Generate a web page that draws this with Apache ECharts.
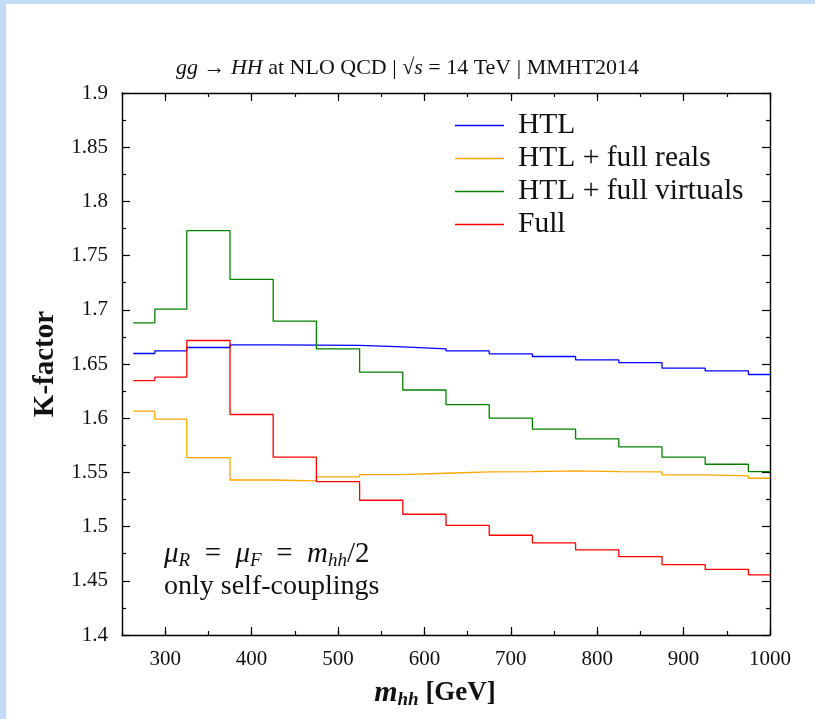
<!DOCTYPE html>
<html>
<head>
<meta charset="utf-8">
<script src="https://cdn.jsdelivr.net/npm/echarts@6/dist/echarts.min.js"></script>
<style>
html,body{margin:0;padding:0;background:#fff;}
#chart{width:815px;height:719px;}
</style>
</head>
<body>
<div id="chart"></div>
<script>
// bin edges in m_hh [GeV]
var binEdges = [263, 288, 325, 375, 425, 475, 525, 575, 625, 675, 725, 775, 825, 875, 925, 975, 1000];
var seriesNames = ['HTL', 'HTL + full reals', 'HTL + full virtuals', 'Full'];
var htl = [1.6597, 1.6621, 1.6652, 1.6677, 1.6674, 1.6672, 1.6658, 1.6640, 1.6621, 1.6594, 1.6569, 1.6538, 1.6513, 1.6462, 1.6437, 1.6403];
var htlReals = [1.6065, 1.5991, 1.5637, 1.5430, 1.5421, 1.5458, 1.5480, 1.5492, 1.5505, 1.5508, 1.5514, 1.5508, 1.5505, 1.5477, 1.5468, 1.5446];
var htlVirtuals = [1.688, 1.7006, 1.773, 1.728, 1.6895, 1.664, 1.6425, 1.626, 1.6126, 1.600, 1.590, 1.581, 1.5735, 1.564, 1.5575, 1.5507];
var full = [1.6347, 1.6378, 1.6717, 1.6034, 1.564, 1.5415, 1.5243, 1.5114, 1.5012, 1.492, 1.4849, 1.4785, 1.4723, 1.4649, 1.4606, 1.4554];
var xMajorTicks = [300, 400, 500, 600, 700, 800, 900, 1000];

var colors = ['#0000ff', '#ffa500', '#008000', '#ff0000'];
var FONT = '"Liberation Serif", "DejaVu Serif", serif';

function stepData(vals) {
  var d = vals.map(function (v, i) { return [binEdges[i], v]; });
  d.push([binEdges[binEdges.length - 1], vals[vals.length - 1]]);
  return d;
}

var chart = echarts.init(document.getElementById('chart'), null, {renderer: 'canvas'});

var axisLineStyle = {color: '#000', width: 1.4};
function xAxisBase(extra) {
  var a = {
    type: 'value', min: 250, max: 1000, gridIndex: 0,
    splitLine: {show: false},
    axisLine: {show: true, onZero: false, lineStyle: axisLineStyle}
  };
  for (var k in extra) a[k] = extra[k];
  return a;
}

var option = {
  backgroundColor: '#ffffff',
  animation: false,
  title: {
    left: 'center', top: 52,
    text: '{i|gg} → {i|HH} at NLO QCD | √{i|s} = 14 TeV | MMHT2014',
    textStyle: {
      fontFamily: FONT, fontSize: 22, fontWeight: 'normal', color: '#111',
      rich: {i: {fontFamily: FONT, fontSize: 22, fontStyle: 'italic', color: '#111'}}
    }
  },
  grid: {left: 122, right: 45, top: 93, bottom: 84, containLabel: false},
  legend: {
    left: 455, top: 109, orient: 'vertical', itemGap: 0, padding: 0,
    itemWidth: 49, itemHeight: 1.4, icon: 'rect',
    data: seriesNames,
    textStyle: {fontFamily: FONT, fontSize: 29.5, color: '#111', lineHeight: 33, padding: [0, 0, 0, 9]}
  },
  xAxis: [
    xAxisBase({
      position: 'bottom', interval: 50,
      axisTick: {show: true, inside: true, length: 4, lineStyle: {color: '#000', width: 1.2}},
      axisLabel: {
        show: true, fontFamily: FONT, fontSize: 21, color: '#111', margin: 14,
        formatter: function (v) { return v % 100 === 0 ? String(v) : ''; }
      },
      name: '{m|m}{s|hh} {b|[GeV]}', nameLocation: 'middle', nameGap: 42,
      nameTextStyle: {
        fontFamily: FONT, fontSize: 27, color: '#111', padding: [0, 22, 0, 0],
        rich: {
          m: {fontFamily: FONT, fontSize: 30, fontStyle: 'italic', fontWeight: 'bold', color: '#111'},
          s: {fontFamily: FONT, fontSize: 19, fontStyle: 'italic', fontWeight: 'bold', color: '#111', padding: [14, 0, 0, 0]},
          b: {fontFamily: FONT, fontSize: 27, fontWeight: 'bold', color: '#111'}
        }
      }
    }),
    xAxisBase({
      position: 'bottom', axisLine: {show: false},
      axisTick: {show: true, inside: true, length: 8, customValues: xMajorTicks, lineStyle: {color: '#000', width: 1.2}},
      axisLabel: {show: false}
    }),
    xAxisBase({
      position: 'top', interval: 50,
      axisTick: {show: true, inside: true, length: 4, lineStyle: {color: '#000', width: 1.2}},
      axisLabel: {show: false}
    }),
    xAxisBase({
      position: 'top', axisLine: {show: false},
      axisTick: {show: true, inside: true, length: 8, customValues: xMajorTicks, lineStyle: {color: '#000', width: 1.2}},
      axisLabel: {show: false}
    })
  ],
  yAxis: [
    {
      type: 'value', min: 1.4, max: 1.9, interval: 0.05, position: 'left',
      splitLine: {show: false},
      axisLine: {show: true, onZero: false, lineStyle: axisLineStyle},
      axisTick: {show: true, inside: true, length: 8, lineStyle: {color: '#000', width: 1.2}},
      minorTick: {show: true, splitNumber: 2, length: 4, lineStyle: {color: '#000', width: 1.2}},
      axisLabel: {fontFamily: FONT, fontSize: 21, color: '#111', margin: 14,
        formatter: function (v) { return String(Math.round(v * 1000) / 1000); }},
      name: 'K-factor', nameLocation: 'middle', nameGap: 62,
      nameTextStyle: {fontFamily: FONT, fontSize: 29, fontWeight: 'bold', color: '#111'}
    },
    {
      type: 'value', min: 1.4, max: 1.9, interval: 0.05, position: 'right',
      splitLine: {show: false},
      axisLine: {show: true, onZero: false, lineStyle: axisLineStyle},
      axisTick: {show: true, inside: true, length: 8, lineStyle: {color: '#000', width: 1.2}},
      minorTick: {show: true, splitNumber: 2, length: 4, lineStyle: {color: '#000', width: 1.2}},
      axisLabel: {show: false}
    }
  ],
  series: [htl, htlReals, htlVirtuals, full].map(function (vals, i) {
    return {
      name: seriesNames[i], type: 'line', step: 'end',
      xAxisIndex: 0, yAxisIndex: 0,
      data: stepData(vals), symbol: 'none', showSymbol: false,
      lineStyle: {color: colors[i], width: 1.3},
      itemStyle: {color: colors[i]},
      clip: true
    };
  }),
  graphic: [
    {type: 'rect', left: 0, top: 0, shape: {width: 815, height: 4}, style: {fill: '#c2dcf7'}, silent: true},
    {type: 'rect', left: 0, top: 0, shape: {width: 6, height: 719}, style: {fill: '#c2dcf7'}, silent: true},
    {
      type: 'text', left: 164, top: 540, silent: true,
      style: {
        text: '{i|μ}{s|R}\u2002=\u2002{i|μ}{s|F}\u2002=\u2002{i|m}{s|hh}/2',
        font: '29px ' + FONT, fill: '#111',
        rich: {
          i: {fontFamily: FONT, fontSize: 29, fontStyle: 'italic', fill: '#111'},
          s: {fontFamily: FONT, fontSize: 19, fontStyle: 'italic', fill: '#111', padding: [13, 0, 0, 0]}
        }
      }
    },
    {
      type: 'text', left: 164, top: 573, silent: true,
      style: {text: 'only self-couplings', font: '28px ' + FONT, fill: '#111'}
    }
  ]
};
chart.setOption(option);
</script>
</body>
</html>
